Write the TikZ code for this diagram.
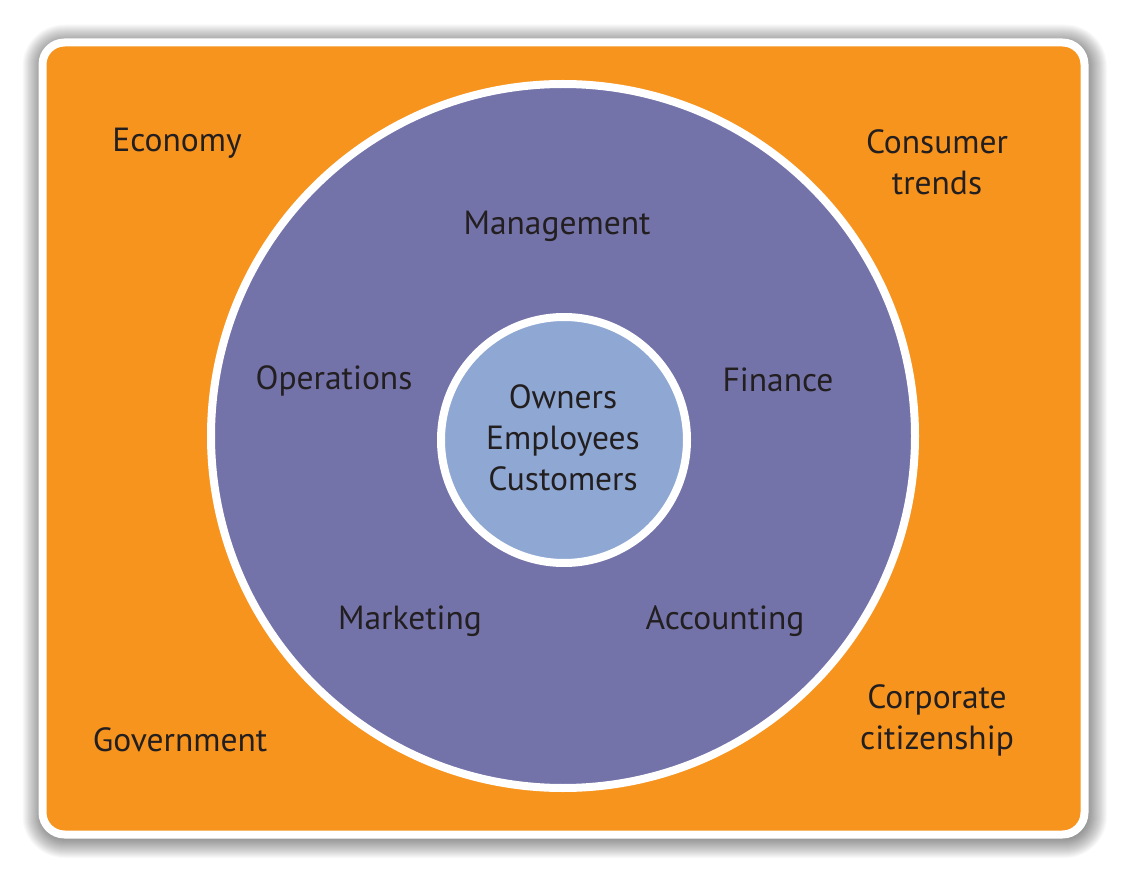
\documentclass[tikz,border=0pt]{standalone}
\usepackage{fontspec}
\setmainfont{PT Sans}
\usetikzlibrary{positioning}
\definecolor{envorange}{HTML}{F7941E}
\definecolor{ringpurple}{HTML}{7373AA}
\definecolor{corelblue}{HTML}{8FA8D3}
\definecolor{inkdark}{HTML}{231F20}
\tikzstyle{factor}=[text=inkdark, font=\fontsize{33.5}{41}\selectfont, align=center, inner sep=0pt]
\tikzstyle{disc}=[draw=white, line width=8pt]

\begin{document}
\begin{tikzpicture}[x=1pt,y=-1pt]
            \useasboundingbox[fill=white] (0,0) rectangle (1128,877);

            % soft shadow round the board
            \foreach \i in {1,...,20}
                \fill[black, opacity=0.022, rounded corners=22+\i]
                    (42.5-\i,44.5-\i) rectangle (1087+\i,838+\i);

            \path[disc, fill=envorange, rounded corners=22] (42.5,42.5) rectangle (1084.5,834.5);

            \path[disc, fill=ringpurple] (563,436) circle (352);
            \path[disc, fill=corelblue] (564,440) circle (123);

            \begin{scope}[every node/.style={factor}]
                \node (econ) at (177,143) {Economy};
                \node (trends) at (937,162) {Consumer\\trends};
                \node (gov) at (180,740) {Government};
                \node (citizen) at (937,720) {Corporate\\citizenship};

                \node (mgmt) at (557,226) {Management};
                \node (ops) at (334,381) {Operations};
                \node (fin) at (778,380) {Finance};
                \node (mkt) at (410,621) {Marketing};
                \node (acc) at (725,621) {Accounting};

                \node (core) at (563,438) {Owners\\Employees\\Customers};
            \end{scope}
        \end{tikzpicture}
\end{document}
